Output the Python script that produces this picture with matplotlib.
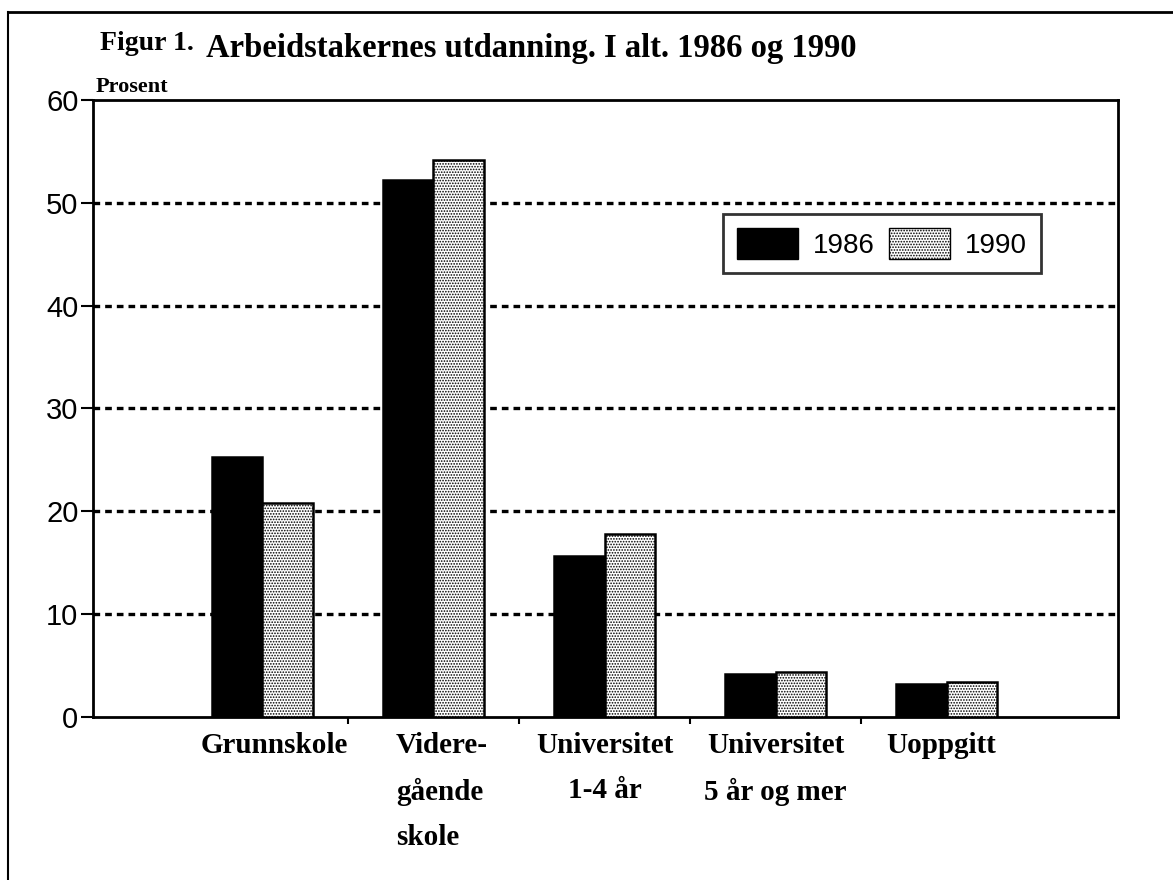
import matplotlib
matplotlib.use("Agg")
import matplotlib.pyplot as plt
from matplotlib.lines import Line2D
from matplotlib.patches import Patch
import numpy as np

# data
categories = ["Grunnskole", "Videre-\ngående\nskole", "Universitet\n1-4 år",
              "Universitet\n5 år og mer", "Uoppgitt"]
years = ["1986", "1990"]
values_1986 = [25.3, 52.2, 15.7, 4.2, 3.2]
values_1990 = [20.8, 54.2, 17.8, 4.4, 3.4]
yticks = [0, 10, 20, 30, 40, 50, 60]

plt.rcParams["hatch.linewidth"] = 0.8
plt.rcParams["hatch.color"] = "black"

fig = plt.figure(figsize=(11.73, 8.8), dpi=100)
ax = fig.add_axes([0.0793, 0.1852, 0.8736, 0.7012])

x = np.arange(len(categories))
w = 0.295
ax.bar(x - w / 2, values_1986, w, color="black", edgecolor="black", lw=1.8, zorder=3)
ax.bar(x + w / 2, values_1990, w, color="white", edgecolor="black", lw=1.8,
       hatch="......", zorder=3)

ax.set_xlim(-0.99, 5.0)
ax.set_ylim(0, 60)

# dotted grid lines
for yv in yticks[1:-1]:
    ax.axhline(yv, color="black", lw=2.4, ls=(0, (2.0, 1.5)), zorder=1)

for s in ax.spines.values():
    s.set_linewidth(2)

ax.set_yticks(yticks)
ax.set_yticklabels([str(v) for v in yticks], fontsize=21, family="Liberation Sans")
ax.tick_params(axis="y", direction="out", length=9, width=1.5, pad=1.5)

# small ticks between groups, no labels on them
ax.set_xticks([0.5, 1.5, 2.5, 3.5])
ax.set_xticklabels([])
ax.tick_params(axis="x", direction="out", length=5, width=1.5)

# category labels placed by hand like the original
label_x = [0.07, 0.78, 2.0, 3.0, 3.97]
label_ha = ["center", "left", "center", "center", "center"]
for lx, lab, ha in zip(label_x, categories, label_ha):
    ax.text(lx, -1.5, lab, ha=ha, va="top", fontsize=21, fontweight="bold",
            family="Liberation Serif", linespacing=1.85, multialignment=ha,
            clip_on=False)

# legend
handles = [Patch(facecolor="black", edgecolor="black"),
           Patch(facecolor="white", edgecolor="black", hatch="......")]
leg = ax.legend(handles, years, loc="upper left", bbox_to_anchor=(0.6146, 0.815),
                ncol=2, frameon=True, fancybox=False,
                handlelength=2.2, handleheight=1.35, columnspacing=0.5,
                handletextpad=0.55, borderpad=0.5, borderaxespad=0,
                prop={"family": "Liberation Sans", "size": 20})
leg.get_frame().set_edgecolor("black")
leg.get_frame().set_linewidth(2)

# titles
fig.text(100 / 1173, 1 - 44 / 880, "Figur 1.", fontsize=20, fontweight="bold",
         family="Liberation Serif", va="center", ha="left")
fig.text(206 / 1173, 1 - 48 / 880, "Arbeidstakernes utdanning. I alt. 1986 og 1990",
         fontsize=23.5, fontweight="bold", family="Liberation Serif", va="center", ha="left")
fig.text(96 / 1173, 1 - 87 / 880, "Prosent", fontsize=16, fontweight="bold",
         family="Liberation Serif", va="center", ha="left")

# outer frame (top and left edges)
fig.add_artist(Line2D([8 / 1173, 8 / 1173], [0, 1 - 12 / 880], color="black", lw=1.5,
                      transform=fig.transFigure))
fig.add_artist(Line2D([8 / 1173, 1], [1 - 12 / 880, 1 - 12 / 880], color="black", lw=2,
                      transform=fig.transFigure))

fig.savefig("out.png", dpi=100)
